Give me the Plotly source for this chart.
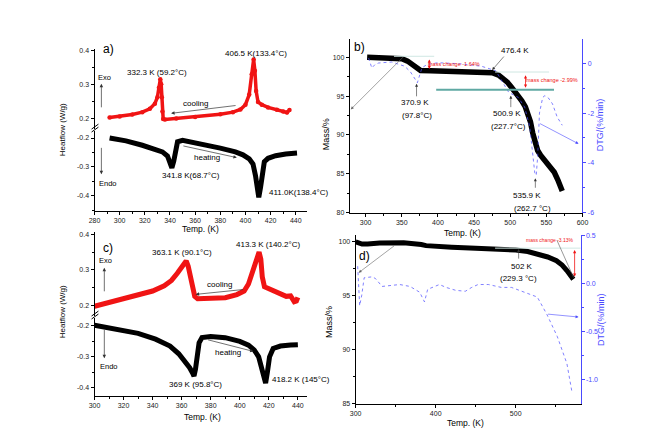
import plotly.graph_objects as go

W, H = 660, 435
def px(x): return x / W
def py(y): return 1 - y / H

RED = "#f01414"
BLUE = "#4a4aff"
FONT = "Liberation Sans, Arial, sans-serif"

# ---------------- data ----------------
# panel a) DSC, cooling (exo, upper) and heating (endo, lower)
a_cool_T = [292, 300, 310, 318, 324, 328, 330, 331.2, 332.3, 333.0, 333.5, 334.0, 334.6, 336, 345, 360, 380, 390, 396, 400, 403, 405, 406.5, 407.5, 408.5, 410, 413, 418, 425, 430, 433, 435]
a_cool_hf = [0.202, 0.205, 0.211, 0.218, 0.228, 0.243, 0.262, 0.290, 0.315, 0.300, 0.262, 0.220, 0.198, 0.196, 0.199, 0.204, 0.212, 0.218, 0.226, 0.240, 0.270, 0.330, 0.373, 0.340, 0.280, 0.248, 0.240, 0.232, 0.225, 0.220, 0.217, 0.224]
a_heat_T = [292, 305, 318, 328, 334, 338, 340, 341.5, 343, 344.5, 346, 350, 365, 380, 392, 398, 403, 406, 408, 409.5, 410.6, 412, 413.5, 415, 418, 424, 432, 441]
a_heat_hf = [-0.200, -0.210, -0.225, -0.238, -0.248, -0.262, -0.285, -0.303, -0.280, -0.235, -0.213, -0.208, -0.220, -0.235, -0.248, -0.258, -0.272, -0.290, -0.330, -0.380, -0.405, -0.370, -0.310, -0.282, -0.270, -0.261, -0.255, -0.252]

# panel c) DSC
c_cool_T = [300, 310, 320, 330, 340, 348, 353, 357, 360, 362, 363.1, 364.5, 366, 367.5, 369, 371, 380, 390, 398, 403, 406, 409, 411, 413.3, 414.5, 415.5, 417, 422, 428, 432, 435, 437.5, 439, 440]
c_cool_hf = [0.197, 0.207, 0.217, 0.228, 0.240, 0.255, 0.270, 0.290, 0.310, 0.322, 0.325, 0.310, 0.280, 0.245, 0.225, 0.218, 0.218, 0.221, 0.230, 0.240, 0.260, 0.300, 0.330, 0.350, 0.330, 0.280, 0.252, 0.242, 0.233, 0.225, 0.226, 0.210, 0.212, 0.222]
c_heat_T = [300, 315, 330, 342, 352, 358, 362, 365.5, 367.5, 368.5, 369.5, 370.5, 372, 374, 380, 390, 400, 406, 410, 413, 415, 416.5, 417.8, 419, 420.5, 423, 428, 435, 440]
c_heat_hf = [-0.198, -0.210, -0.224, -0.243, -0.265, -0.290, -0.312, -0.335, -0.352, -0.362, -0.340, -0.290, -0.255, -0.238, -0.234, -0.238, -0.250, -0.262, -0.278, -0.300, -0.335, -0.370, -0.385, -0.350, -0.300, -0.273, -0.265, -0.262, -0.261]

# panel b) TGA / DTG
b_T = [302, 320, 340, 350, 358, 365, 371, 376, 390, 420, 450, 475, 484, 490, 496, 502, 509, 516, 521, 525, 528, 531, 535, 538, 542, 547, 554, 561, 566, 572]
b_mass = [100.0, 99.95, 99.9, 99.8, 99.5, 99.1, 98.6, 98.3, 98.25, 98.2, 98.1, 98.0, 97.7, 97.3, 96.8, 96.1, 95.3, 94.4, 93.6, 92.7, 91.7, 90.3, 88.8, 88.0, 87.4, 86.8, 86.0, 85.2, 84.2, 82.8]
b_dtg_T = [304, 308.5, 313, 318, 336, 354, 362, 367, 371.6, 375, 378, 385, 400, 430, 460, 480, 489, 498, 511, 520, 527, 531, 534, 536, 538, 540.5, 545, 548, 553, 558.5, 565, 572]
b_dtg = [0.21, -0.19, -0.05, 0.01, 0.05, -0.12, -0.35, -0.58, -0.78, -0.45, -0.18, -0.05, 0.02, -0.02, -0.12, -0.3, -0.71, -1.17, -1.37, -1.76, -2.55, -3.6, -4.4, -4.5, -3.74, -2.0, -1.37, -1.3, -1.4, -1.63, -2.16, -2.49]

# panel d) TGA / DTG
d_T = [300, 308, 315, 330, 360, 375, 382, 388, 395, 420, 450, 480, 500, 515, 527, 540, 551, 558, 564, 568, 572]
d_mass = [99.95, 99.75, 99.75, 99.85, 99.87, 99.8, 99.7, 99.6, 99.55, 99.45, 99.35, 99.27, 99.2, 99.05, 98.85, 98.55, 98.2, 97.8, 97.3, 96.9, 96.5]
d_dtg_T = [302.5, 303.7, 305, 307.6, 310.6, 320.9, 325, 333, 343, 355, 368, 380, 386, 390, 404.7, 413, 425, 437, 445, 453, 466, 482, 494.7, 511, 527, 539, 552, 564, 570]
d_dtg = [0.18, -0.01, -0.23, -0.12, 0.06, 0.07, 0.05, -0.03, -0.02, -0.01, -0.03, -0.09, -0.19, -0.06, -0.01, -0.04, -0.07, -0.08, -0.04, -0.01, -0.01, -0.04, -0.04, -0.09, -0.14, -0.32, -0.55, -0.83, -1.11]

# tick labels
hf_up_vals = [0.2, 0.3, 0.4]
hf_up_text = ["0.2", "0.3", "0.4"]
hf_lo_vals = [-0.4, -0.3, -0.2]
hf_lo_text = ["-0.4", "-0.3", "-0.2"]
b_dtg_vals = [-6, -4, -2, 0]
b_dtg_text = ["-6", "-4", "-2", "0"]
d_dtg_vals = [-1.0, -0.5, 0.0, 0.5]
d_dtg_text = ["-1.0", "-0.5", "0.0", "0.5"]

# ---------------- figure ----------------
fig = go.Figure()
fig.add_trace(go.Scatter(x=a_cool_T, y=a_cool_hf, xaxis="x", yaxis="y", mode="lines+markers",
                         line=dict(color=RED, width=3.5), marker=dict(color=RED, size=4.5)))
fig.add_trace(go.Scatter(x=a_heat_T, y=a_heat_hf, xaxis="x", yaxis="y2", mode="lines",
                         line=dict(color="black", width=5)))
fig.add_trace(go.Scatter(x=b_T, y=b_mass, xaxis="x2", yaxis="y3", mode="lines",
                         line=dict(color="black", width=5.5)))
fig.add_trace(go.Scatter(x=b_dtg_T, y=b_dtg, xaxis="x2", yaxis="y4", mode="lines",
                         line=dict(color=BLUE, width=0.7, dash="dot")))
fig.add_trace(go.Scatter(x=c_cool_T, y=c_cool_hf, xaxis="x3", yaxis="y5", mode="lines",
                         line=dict(color=RED, width=5)))
fig.add_trace(go.Scatter(x=c_heat_T, y=c_heat_hf, xaxis="x3", yaxis="y6", mode="lines",
                         line=dict(color="black", width=5)))
fig.add_trace(go.Scatter(x=d_T, y=d_mass, xaxis="x4", yaxis="y7", mode="lines",
                         line=dict(color="black", width=5)))
fig.add_trace(go.Scatter(x=d_dtg_T, y=d_dtg, xaxis="x4", yaxis="y8", mode="lines",
                         line=dict(color=BLUE, width=0.7, dash="dot")))

def ax(**kw):
    base = dict(showline=True, linecolor="black", linewidth=1, ticks="outside", ticklen=3,
                tickwidth=1, tickcolor="black", showgrid=False, zeroline=False, mirror=False,
                tickfont=dict(size=7, family=FONT, color="#222222"), fixedrange=True)
    base.update(kw)
    return base

def minor(d, col="black"):
    return dict(dtick=d, ticklen=2, ticks="outside", tickcolor=col, showgrid=False)

fig.update_layout(
    width=W, height=H, autosize=False, showlegend=False,
    margin=dict(l=0, r=0, t=0, b=0),
    paper_bgcolor="white", plot_bgcolor="rgba(0,0,0,0)",
    font=dict(family=FONT, size=8, color="black"),
    xaxis=ax(domain=[px(82), px(298)], range=[280, 448.6], anchor="y2", tick0=280, dtick=20, minor=minor(10)),
    yaxis=ax(domain=[py(119), py(38)], range=[0.168, 0.403], anchor="x", tickvals=hf_up_vals, ticktext=hf_up_text, minor=minor(0.05)),
    yaxis2=ax(domain=[py(202), py(121)], range=[-0.451, -0.176], anchor="x", tickvals=hf_lo_vals, ticktext=hf_lo_text, minor=minor(0.05)),
    xaxis2=ax(domain=[px(342), px(579)], range=[278, 600], anchor="y3", tick0=300, dtick=50, minor=minor(25)),
    yaxis3=ax(domain=[py(204), py(27)], range=[80, 102.4], anchor="x2", tick0=80, dtick=5, minor=minor(2.5)),
    yaxis4=ax(overlaying="y3", side="right", anchor="x2", range=[-6, 0.99], tickvals=b_dtg_vals, ticktext=b_dtg_text,
              linecolor=BLUE, tickcolor=BLUE, tickfont=dict(size=7, family=FONT, color=BLUE), minor=minor(1, BLUE)),
    xaxis3=ax(domain=[px(82), px(298)], range=[300, 446], anchor="y6", tick0=300, dtick=20, minor=minor(10)),
    yaxis5=ax(domain=[py(309), py(224)], range=[0.1694, 0.4056], anchor="x3", tickvals=hf_up_vals, ticktext=hf_up_text, minor=minor(0.05)),
    yaxis6=ax(domain=[py(390), py(311)], range=[-0.4254, -0.1746], anchor="x3", tickvals=hf_lo_vals, ticktext=hf_lo_text, minor=minor(0.05)),
    xaxis4=ax(domain=[px(348), px(577)], range=[300, 581], anchor="y7", tick0=300, dtick=100, minor=minor(50)),
    yaxis7=ax(domain=[py(398), py(227)], range=[85, 100.55], anchor="x4", tick0=85, dtick=5, minor=minor(2.5)),
    yaxis8=ax(overlaying="y7", side="right", anchor="x4", range=[-1.245, 0.5], tickvals=d_dtg_vals, ticktext=d_dtg_text,
              linecolor=BLUE, tickcolor=BLUE, tickfont=dict(size=7, family=FONT, color=BLUE), minor=minor(0.25, BLUE)),
)

ann = []
shapes = []

def txt(x, y, s, size=8, color="black", angle=0):
    ann.append(dict(x=px(x), y=py(y), xref="paper", yref="paper", text=s, showarrow=False,
                    font=dict(size=size, color=color, family=FONT), textangle=angle,
                    xanchor="center", yanchor="middle"))

def arrow(x0, y0, x1, y1, color="#333333", width=0.7, head=2, size=1.0, side="end"):
    ann.append(dict(x=px(x1), y=py(y1), xref="paper", yref="paper", text="", showarrow=True,
                    ax=x0 - x1, ay=y0 - y1, axref="pixel", ayref="pixel",
                    arrowcolor=color, arrowwidth=width, arrowhead=head, arrowsize=size,
                    startarrowhead=head, startarrowsize=size, arrowside=side, standoff=0, startstandoff=0))

def hline(x0, x1, y, color, width=1):
    shapes.append(dict(type="line", xref="paper", yref="paper", x0=px(x0), x1=px(x1), y0=py(y), y1=py(y),
                       line=dict(color=color, width=width)))

def seg(x0, y0, x1, y1, color="black", width=1):
    shapes.append(dict(type="line", xref="paper", yref="paper", x0=px(x0), x1=px(x1), y0=py(y0), y1=py(y1),
                       line=dict(color=color, width=width)))

# ---- panel a
txt(96, 38, "a)", size=12)
txt(146, 61, "332.3 K (59.2°C)", size=8)
txt(246, 42, "406.5 K(133.4°C)", size=8)
txt(185, 93, "cooling", size=8)
arrow(226, 95, 160, 103)
txt(197, 148, "heating", size=8)
arrow(172, 136, 227, 148)
txt(180, 166, "341.8 K(68.7°C)", size=8)
txt(290, 183, "411.0K(138.4°C)", size=8)
txt(92, 67, "Exo", size=7.5)
arrow(89, 98, 89, 73)
txt(96, 174, "Endo", size=7.5)
arrow(89, 137, 89, 165)
txt(49, 120, "Heatflow (W/g)", size=8, angle=-90)
txt(190, 221, "Temp. (K)", size=8.5)
seg(79, 122, 86, 117); seg(79, 119, 86, 114)

# ---- panel c
txt(96, 240, "c)", size=12)
txt(171, 244, "363.1 K (90.1°C)", size=8)
txt(259, 236, "413.3 K (140.2°C)", size=8)
txt(209, 277, "cooling", size=8)
arrow(234, 282, 185, 287)
txt(218, 346, "heating", size=8)
arrow(197, 333, 244, 345)
txt(185, 379, "369 K (95.8°C)", size=8)
txt(292, 374, "418.2 K (145°C)", size=8)
txt(93, 253, "Exo", size=7.5)
arrow(92, 285, 92, 260)
txt(97, 360, "Endo", size=7.5)
arrow(92, 322, 92, 352)
txt(49, 305, "Heatflow (W/g)", size=8, angle=-90)
txt(192, 412, "Temp. (K)", size=8.5)
seg(79, 312, 86, 307); seg(79, 309, 86, 304)

# ---- panel b
txt(352, 36, "b)", size=12)
hline(387, 428, 45, "#cfe7e3", 1)
hline(490, 545, 61, "#cfe7e3", 1)
hline(430, 550, 79, "#5fa9a3", 2)
arrow(423, 47, 423, 58, color=RED, width=0.8, head=2, size=0.8, side="end+start")
txt(448, 53, "mass change -1.64%", size=5.5, color=RED)
arrow(521, 63, 521, 77, color=RED, width=0.8, head=2, size=0.8, side="end+start")
txt(548, 69, "mass change -2.99%", size=5.5, color=RED)
txt(510, 39, "476.4 K", size=8)
arrow(500, 44, 487, 59, width=0.6)
txt(408, 92, "370.9 K", size=8)
txt(410, 105, "(97.8°C)", size=8)
arrow(410, 87, 410, 73, width=0.6)
txt(502, 103, "500.9 K", size=8)
txt(504, 116, "(227.7°C)", size=8)
arrow(506, 98, 506, 85, width=0.6)
txt(523, 186, "535.9 K", size=8)
txt(528, 200, "(262.7 °C)", size=8)
arrow(531, 180, 531, 169, width=0.6)
arrow(397, 45, 343, 99, color="#666666", width=0.6)
arrow(535, 113, 575, 134, color=BLUE, width=0.6)
txt(318, 124, "Mass/%", size=9, angle=-90)
txt(597, 115, "DTG/(%/min)", size=9, color=BLUE, angle=-90)
txt(457, 225, "Temp. (K)", size=8.5)

# ---- panel d
txt(357, 248, "d)", size=12)
hline(490, 577, 240, "#cfe7e3", 1)
seg(553, 232, 570, 270, color="#555555", width=0.6)
arrow(571, 270, 571, 242, color=RED, width=0.8, head=2, size=0.8, side="end+start")
txt(546, 232, "mass change -3.13%", size=5, color=RED)
txt(517, 259, "502 K", size=8)
txt(514, 271, "(229.3 °C)", size=8)
arrow(514, 252, 514, 241, width=0.6)
arrow(388, 237, 351, 265, color="#666666", width=0.6)
arrow(543, 307, 575, 310, color=BLUE, width=0.6)
txt(321, 315, "Mass/%", size=9, angle=-90)
txt(598, 313, "DTG/(%/min)", size=9, color=BLUE, angle=-90)
txt(460, 418, "Temp. (K)", size=8.5)

fig.update_layout(annotations=ann, shapes=shapes)
fig.write_html("out.html")
